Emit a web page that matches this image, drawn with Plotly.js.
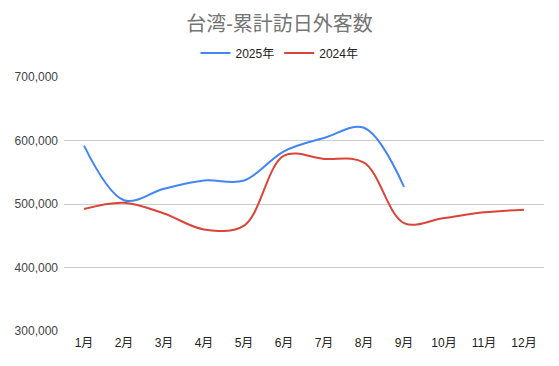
<!DOCTYPE html>
<html>
<head>
<meta charset="utf-8">
<script src="https://cdn.plot.ly/plotly-3.0.1.min.js"></script>
<style>html,body{margin:0;padding:0;background:#fff;}#chart{width:559px;height:366px;}</style>
</head>
<body>
<div id="chart"></div>
<script>
const months = ["1月","2月","3月","4月","5月","6月","7月","8月","9月","10月","11月","12月"];
const months2025 = ["1月","2月","3月","4月","5月","6月","7月","8月","9月"];
const visitors2025 = [592000, 506000, 524000, 537000, 537000, 583000, 604000, 620000, 527000];
const visitors2024 = [492000, 502000, 485000, 460000, 466000, 576000, 571000, 565000, 470000, 478000, 487000, 491000];
const yTicks = [300000, 400000, 500000, 600000, 700000];
const fontFam = '"Liberation Sans", Arial, "Noto Sans CJK JP", sans-serif';

const traces = [
  {x: months2025, y: visitors2025, name: "2025年", type: "scatter", mode: "lines",
   line: {color: "#4285F4", width: 2, shape: "spline", smoothing: 1}},
  {x: months, y: visitors2024, name: "2024年", type: "scatter", mode: "lines",
   line: {color: "#DB4437", width: 2, shape: "spline", smoothing: 1}}
];

const layout = {
  width: 559, height: 366,
  margin: {l: 64, r: 15, t: 77, b: 35},
  paper_bgcolor: "#fff", plot_bgcolor: "#fff",
  font: {family: fontFam, size: 12, color: "#444"},
  title: {text: "台湾-累計訪日外客数", font: {family: fontFam, size: 20, color: "#757575"},
          x: 0.5, xref: "container", xanchor: "center", y: 1 - 24/366, yref: "container", yanchor: "middle"},
  showlegend: true,
  legend: {orientation: "h", xref: "container", x: 0.5, xanchor: "center",
           yref: "container", y: 1 - 53/366, yanchor: "middle",
           font: {family: fontFam, size: 12, color: "#222"}, itemwidth: 30},
  xaxis: {type: "category", categoryorder: "array", categoryarray: months,
          range: [-0.5, 11.5], showgrid: false, zeroline: false, showline: false,
          ticks: "", ticklabelstandoff: 3, tickfont: {size: 12, color: "#222"}, fixedrange: true},
  yaxis: {range: [300000, 700000], tickvals: yTicks, tickformat: ",d",
          showgrid: true, gridcolor: "#cccccc", gridwidth: 1, zeroline: false, showline: false,
          ticks: "", ticklen: 0, ticklabelstandoff: 5, tickfont: {size: 12, color: "#444"}, fixedrange: true}
};

Plotly.newPlot("chart", traces, layout, {displayModeBar: false, staticPlot: true});
</script>
</body>
</html>
